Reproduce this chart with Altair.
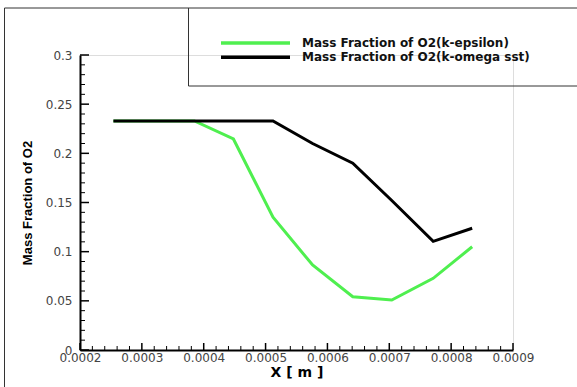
import altair as alt
import pandas as pd

# Axial position along the channel [m]
x_pos = [0.000254, 0.000320, 0.000385, 0.000448, 0.000512,
         0.000576, 0.000641, 0.000704, 0.000771, 0.000834]

# O2 mass fraction predicted by each turbulence model
o2_k_epsilon = [0.233, 0.233, 0.233, 0.2146, 0.135,
                0.0864, 0.0542, 0.0508, 0.0729, 0.105]
o2_k_omega_sst = [0.233, 0.233, 0.233, 0.233, 0.233,
                  0.210, 0.190, 0.152, 0.1105, 0.1238]

series_names = ["Mass Fraction of O2(k-epsilon)", "Mass Fraction of O2(k-omega sst)"]
series_colors = ["#4fef4f", "#000000"]

# Axis ticks
x_major = [0.0002, 0.0003, 0.0004, 0.0005, 0.0006, 0.0007, 0.0008, 0.0009]
y_major = [0, 0.05, 0.1, 0.15, 0.2, 0.25, 0.3]
x_minor = [round(0.0002 + i * 0.00002, 6) for i in range(36) if i % 5]
y_minor = [round(i * 0.01, 3) for i in range(31) if i % 5]

W, H = 433, 295

rows = []
for name, ys in zip(series_names, [o2_k_epsilon, o2_k_omega_sst]):
    for xv, yv in zip(x_pos, ys):
        rows.append({"x": xv, "o2": yv, "series": name})
df = pd.DataFrame(rows)

x_scale = alt.Scale(domain=[0.0002, 0.0009], nice=False, zero=False)
y_scale = alt.Scale(domain=[0, 0.3], nice=False, zero=False)
color_scale = alt.Scale(domain=series_names, range=series_colors)

x_axis = alt.Axis(values=x_major, format="~g", ticks=False, grid=False,
                  domainColor="#000", domainWidth=2,
                  labelFont="DejaVu Sans", labelFontSize=12, labelColor="#444",
                  labelPadding=2, labelFlush=False, labelOverlap=False,
                  title="X [ m ]", titleFont="DejaVu Sans", titleFontSize=14,
                  titleFontWeight="bold", titleColor="#000", titlePadding=2)
y_axis = alt.Axis(values=y_major, format="~g", ticks=False, grid=False,
                  domainColor="#000", domainWidth=2,
                  labelFont="DejaVu Sans", labelFontSize=12, labelColor="#444",
                  labelPadding=8, labelFlush=False, labelOverlap=False,
                  title="Mass Fraction of O2", titleFont="Liberation Sans",
                  titleFontSize=13, titleFontWeight="bold", titleColor="#000",
                  titlePadding=11)

lines = alt.Chart(df).mark_line(strokeWidth=3).encode(
    x=alt.X("x:Q", scale=x_scale, axis=x_axis),
    y=alt.Y("o2:Q", scale=y_scale, axis=y_axis),
    color=alt.Color("series:N", scale=color_scale, legend=None),
    order=alt.Order("series:N", sort="descending"),
)

def x_ticks(values, length, width):
    return alt.Chart(pd.DataFrame({"x": values})).mark_rule(
        color="#000", strokeWidth=width).encode(
        x=alt.X("x:Q", scale=x_scale, axis=x_axis),
        y=alt.value(H), y2=alt.value(H - length))

def y_ticks(values, length, width):
    return alt.Chart(pd.DataFrame({"o2": values})).mark_rule(
        color="#000", strokeWidth=width).encode(
        y=alt.Y("o2:Q", scale=y_scale, axis=y_axis),
        x=alt.value(0), x2=alt.value(length))

one = pd.DataFrame({"k": [0]})

def frame_rule(x1, x2, y1, y2):
    return alt.Chart(one).mark_rule(color="#333", strokeWidth=1).encode(
        x=alt.value(x1), x2=alt.value(x2), y=alt.value(y1), y2=alt.value(y2))

frame = [
    frame_rule(-75.5, -75.5, -47, 340),
    frame_rule(-75.5, 500, -47, -47),
    frame_rule(108.5, 108.5, -47, 31),
    frame_rule(108.5, 500, 31, 31),
]

legend_y = [-12, 2.3]
legend = []
for name, ly in zip(series_names, legend_y):
    d = pd.DataFrame({"series": [name]})
    legend.append(alt.Chart(d).mark_rule(strokeWidth=3.5).encode(
        x=alt.value(141), x2=alt.value(210), y=alt.value(ly),
        color=alt.Color("series:N", scale=color_scale, legend=None)))
    legend.append(alt.Chart(d).mark_text(
        align="left", baseline="middle", font="DejaVu Sans", fontSize=12,
        fontWeight="bold", color="#111").encode(
        x=alt.value(222), y=alt.value(ly), text="series:N"))

chart = alt.layer(
    lines,
    x_ticks(x_minor, 4, 1), x_ticks(x_major, 7, 1.5),
    y_ticks(y_minor, 5, 1), y_ticks(y_major, 9, 1.5),
    *frame,
    *legend,
).properties(
    width=W, height=H,
    autosize=alt.AutoSizeParams(type="none"),
    padding={"left": 80, "top": 55, "right": 64, "bottom": 37},
).configure_view(stroke=None).configure(background="white")

chart.save("out.html", embed_options={"renderer": "svg", "actions": False})
